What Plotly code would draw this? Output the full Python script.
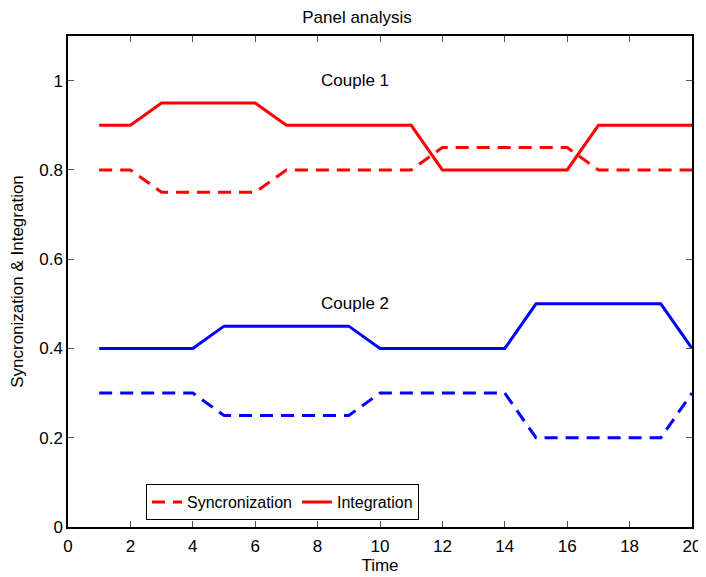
import plotly.graph_objects as go

time = list(range(1, 21))
c1_integration = [0.9, 0.9, 0.95, 0.95, 0.95, 0.95, 0.9, 0.9, 0.9, 0.9, 0.9, 0.8, 0.8, 0.8, 0.8, 0.8, 0.9, 0.9, 0.9, 0.9]
c1_sync = [0.8, 0.8, 0.75, 0.75, 0.75, 0.75, 0.8, 0.8, 0.8, 0.8, 0.8, 0.85, 0.85, 0.85, 0.85, 0.85, 0.8, 0.8, 0.8, 0.8]
c2_integration = [0.4, 0.4, 0.4, 0.4, 0.45, 0.45, 0.45, 0.45, 0.45, 0.4, 0.4, 0.4, 0.4, 0.4, 0.5, 0.5, 0.5, 0.5, 0.5, 0.4]
c2_sync = [0.3, 0.3, 0.3, 0.3, 0.25, 0.25, 0.25, 0.25, 0.25, 0.3, 0.3, 0.3, 0.3, 0.3, 0.2, 0.2, 0.2, 0.2, 0.2, 0.3]

font = "Liberation Sans, Arial, sans-serif"
dash = "13px,8px"

fig = go.Figure()
fig.add_trace(go.Scatter(x=time, y=c1_sync, mode="lines", name="Syncronization",
                         line=dict(color="#ff0000", width=3, dash=dash)))
fig.add_trace(go.Scatter(x=time, y=c1_integration, mode="lines", name="Integration",
                         line=dict(color="#ff0000", width=3)))
fig.add_trace(go.Scatter(x=time, y=c2_sync, mode="lines", showlegend=False,
                         line=dict(color="#0000ff", width=3, dash=dash)))
fig.add_trace(go.Scatter(x=time, y=c2_integration, mode="lines", showlegend=False,
                         line=dict(color="#0000ff", width=3)))

fig.add_annotation(x=9.2, y=1.0, text="Couple 1", showarrow=False,
                   font=dict(family=font, size=17, color="black"))
fig.add_annotation(x=9.2, y=0.5, text="Couple 2", showarrow=False,
                   font=dict(family=font, size=17, color="black"))

axis_common = dict(showline=True, linecolor="black", linewidth=1.5, mirror="ticks",
                   ticks="inside", ticklen=6, tickcolor="#555555", showgrid=False,
                   zeroline=False, automargin=False,
                   tickfont=dict(family=font, size=17, color="black"))

fig.update_xaxes(range=[0, 20], dtick=2, tick0=0, ticklabelstandoff=3,
                 title=dict(text="Time", font=dict(family=font, size=17, color="black"), standoff=0),
                 **axis_common)
fig.update_yaxes(range=[0, 1.1], tickvals=[0, 0.2, 0.4, 0.6, 0.8, 1], ticktext=["0", "0.2", "0.4", "0.6", "0.8", "1"],
                 title=dict(text="Syncronization & Integration", font=dict(family=font, size=17, color="black"), standoff=12),
                 **axis_common)

# page body has an 8px margin, so the figure is sized/offset to compensate
fig.update_layout(
    width=698, height=569,
    margin=dict(l=60, r=14, t=28, b=50),
    paper_bgcolor="white", plot_bgcolor="white",
    title=dict(text="Panel analysis", x=0.5, xanchor="center", yref="container", y=0.984, yanchor="middle",
               font=dict(family=font, size=17, color="black")),
    legend=dict(orientation="h", x=0.125, y=0.014, xanchor="left", yanchor="bottom",
                bordercolor="black", borderwidth=1, bgcolor="white",
                font=dict(family=font, size=16, color="black")),
    showlegend=True,
)

fig.write_html("out.html")
